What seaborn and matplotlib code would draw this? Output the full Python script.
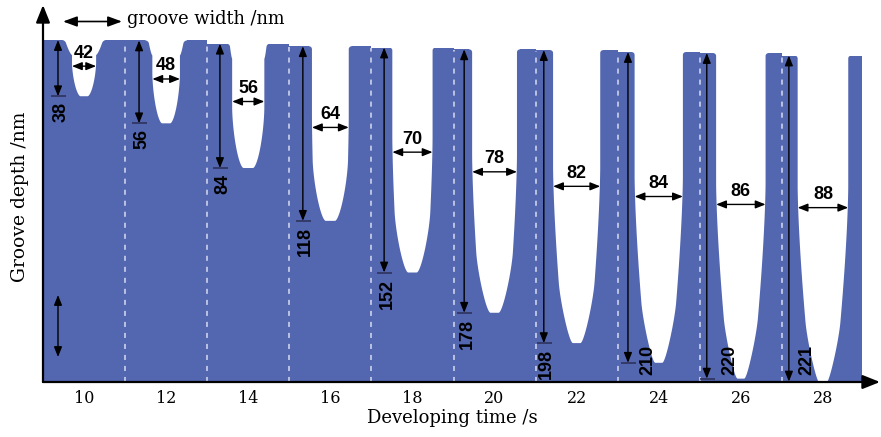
import numpy as np
import pandas as pd
import matplotlib
matplotlib.use("Agg")
import matplotlib.pyplot as plt
import seaborn as sns

# ---------------- data ----------------
dev_time = [10, 12, 14, 16, 18, 20, 22, 24, 26, 28]                 # s
groove_width = [42, 48, 56, 64, 70, 78, 82, 84, 86, 88]             # nm
groove_depth = [38, 56, 84, 118, 152, 178, 198, 210, 220, 221]      # nm
surface_level = [0, -0.3, -2.5, -4.2, -5.1, -6.3, -6.8, -8.1, -8.8, -10.5]  # nm, top of each panel
x_ticks = [10, 12, 14, 16, 18, 20, 22, 24, 26, 28]

# ---------------- layout / style ----------------
FIG_W, FIG_H = 881, 437
AX_L, AX_R, AX_T, AX_B = 43, 880, 5, 382
PX_PER_S = 41.05
PX_PER_NM = 1.48
TOP_PX = 40
WIDTH_PX_PER_NM = 0.575
X0 = 9.0
X1 = X0 + (AX_R - AX_L) / PX_PER_S
Y0 = -(AX_B - TOP_PX) / PX_PER_NM
Y1 = (TOP_PX - AX_T) / PX_PER_NM
BLUE_END = 28.95
BLUE = "#5366b0"
DASH = "#c3c9e6"
top_flare_px = [7, 4, 2.5, 0, 0, 0, 0, 0, 0, 0]
depth_arrow_dt = [-0.635, -0.66, -0.69, -0.67, -0.69, -0.74, -0.80, -0.75, -0.83, -0.83]
side_label_px = [None] * 7 + [20, 23, 18]
WIDTH_ARROW_FRAC = 0.465

SERIF = "DejaVu Serif"
NUMFONT = dict(family="Liberation Sans", weight="bold", size=13, color="black")

sns.set_theme(style="white")
plt.rcParams["font.family"] = [SERIF]
plt.rcParams["text.color"] = "black"
plt.rcParams["axes.labelcolor"] = "black"
plt.rcParams["xtick.color"] = "black"

fig = plt.figure(figsize=(FIG_W / 100, FIG_H / 100), dpi=100)
fig.patch.set_facecolor("white")
ax = fig.add_axes([AX_L / FIG_W, 1 - AX_B / FIG_H,
                   (AX_R - AX_L) / FIG_W, (AX_B - AX_T) / FIG_H])
ax.set_xlim(X0, X1)
ax.set_ylim(Y0, Y1)
ax.set_facecolor("white")
for s in ax.spines.values():
    s.set_visible(False)


def dx(px):
    return px / PX_PER_S


def dy(px):
    return px / PX_PER_NM


def ffrac(px, py):
    return (px / FIG_W, 1 - py / FIG_H)


# ---------------- blue substrate (panel tops) ----------------
seg_x, seg_y = [], []
for i, c in enumerate(dev_time):
    a = max(c - 1, X0)
    b = min(c + 1, BLUE_END)
    seg_x += [a, b]
    seg_y += [surface_level[i], surface_level[i]]
ax.fill_between(seg_x, seg_y, Y0 - 20, color=BLUE, lw=0, zorder=1)

# ---------------- grooves (white) ----------------
u = np.linspace(0, 1, 800)
for i, c in enumerate(dev_time):
    top = surface_level[i]
    Wpx = groove_width[i] * WIDTH_PX_PER_NM
    Dpx = groove_depth[i] * PX_PER_NM
    # smooth wall taper of the deep grooves
    T = np.clip(1 - (Dpx - 120) / 380, 0.46, 1)
    v = np.clip((u - 0.4) / 0.6, 0, 1)
    taper = 1 - (1 - T) * v ** 1.5
    # rounded bottom
    h = (1 - u) * Dpx
    R = min(60.0, 0.6 * Dpx)
    x = np.clip(h / R, 0, 1)
    f = 0.3
    e = f + (1 - f) * (1 - (1 - x) ** 1.6) ** 0.6
    hw = Wpx / 2 * taper * e
    dpx = u * Dpx
    fl = top_flare_px[i] * np.clip(1 - dpx / 15.0, 0, 1) ** 0.7
    r = 3.0
    dd = np.clip(dpx, 0, r)
    rec = r - np.sqrt(r ** 2 - (r - dd) ** 2)
    hw = hw + fl + rec
    xs_l = c - dx(hw)
    xs_r = c + dx(hw)
    ys = top - dy(dpx)
    px = np.concatenate([[xs_l[0]], xs_l, xs_r[::-1], [xs_r[0]]])
    py = np.concatenate([[top + 3], ys, ys[::-1], [top + 3]])
    ax.fill(px, py, color="white", lw=0, zorder=2)

# ---------------- dashed panel separators ----------------
rows = []
for i in range(len(dev_time) - 1):
    t = dev_time[i] + 1
    ytop = min(surface_level[i], surface_level[i + 1]) - 0.3
    rows += [dict(line=i, t=t, y=Y0), dict(line=i, t=t, y=ytop)]
dash_df = pd.DataFrame(rows)
sns.lineplot(data=dash_df, x="t", y="y", units="line", estimator=None,
             color=DASH, lw=1.3, linestyle=(0, (2.8, 3.3)), ax=ax, zorder=3,
             legend=False)

# ---------------- depth arrows & labels ----------------
arrow_small = dict(arrowstyle="<|-|>,head_length=0.5,head_width=0.2",
                   color="black", lw=1.0, shrinkA=0, shrinkB=0,
                   mutation_scale=12)
for i, c in enumerate(dev_time):
    top = surface_level[i]
    bot = top - groove_depth[i]
    xa = c + depth_arrow_dt[i]
    ax.annotate("", xy=(xa, max(bot, Y0 + 0.3)), xytext=(xa, top),
                arrowprops=arrow_small, zorder=5, annotation_clip=False)
    if bot > Y0 + 2:
        ax.plot([xa - dx(7), xa + dx(8)], [bot, bot], color="#2b2d55",
                lw=1.1, zorder=5, solid_capstyle="butt")
    if side_label_px[i] is None:
        ax.text(xa + dx(3), bot - dy(6), str(groove_depth[i]), rotation=90,
                ha="center", va="top", zorder=6, **NUMFONT)
    else:
        ax.text(xa + dx(side_label_px[i]), Y0 + dy(7), str(groove_depth[i]),
                rotation=90, ha="center", va="bottom", zorder=6, **NUMFONT)

# ---------------- width arrows & labels ----------------
for i, c in enumerate(dev_time):
    top = surface_level[i]
    ya = top - WIDTH_ARROW_FRAC * groove_depth[i]
    half = dx(groove_width[i] * WIDTH_PX_PER_NM / 2)
    ax.annotate("", xy=(c + half, ya), xytext=(c - half, ya),
                arrowprops=arrow_small, zorder=5)
    ax.text(c, ya + dy(13), str(groove_width[i]), ha="center", va="center",
            zorder=6, **NUMFONT)

# ---------------- axes with arrow heads ----------------
big = dict(arrowstyle="-|>,head_length=0.75,head_width=0.3", color="black",
           lw=1.6, shrinkA=0, shrinkB=0, mutation_scale=14)
ax.annotate("", xy=(0, 1), xytext=(0, 0), xycoords="axes fraction",
            arrowprops=big, annotation_clip=False, zorder=10)
ax.annotate("", xy=(1, 0), xytext=(0, 0), xycoords="axes fraction",
            arrowprops=big, annotation_clip=False, zorder=10)

ax.set_xticks(x_ticks)
ax.set_xticklabels([str(t) for t in x_ticks])
ax.set_yticks([])
ax.tick_params(axis="x", length=0, pad=6, labelsize=11.5, labelcolor="black")
ax.set_xlabel("Developing time /s", fontsize=13, labelpad=1,
              x=(452 - AX_L) / (AX_R - AX_L))
ax.set_ylabel("Groove depth /nm", fontsize=13.5, labelpad=10, y=0.49)

# ---------------- legend-like annotations ----------------
leg_arrow = dict(arrowstyle="<|-|>,head_length=0.6,head_width=0.22",
                 color="black", lw=1.2, shrinkA=0, shrinkB=0, mutation_scale=14)
fig.add_artist(plt.Annotation("", xy=ffrac(122, 21.5), xytext=ffrac(63, 21.5),
                              xycoords="figure fraction",
                              textcoords="figure fraction",
                              arrowprops=leg_arrow))
fig.text(*ffrac(127, 23.5), "groove width /nm", fontsize=12.8, ha="left",
         va="baseline")
fig.add_artist(plt.Annotation("", xy=ffrac(58, 295), xytext=ffrac(58, 357),
                              xycoords="figure fraction",
                              textcoords="figure fraction",
                              arrowprops=arrow_small))

fig.savefig("out.png", dpi=100, facecolor="white")
